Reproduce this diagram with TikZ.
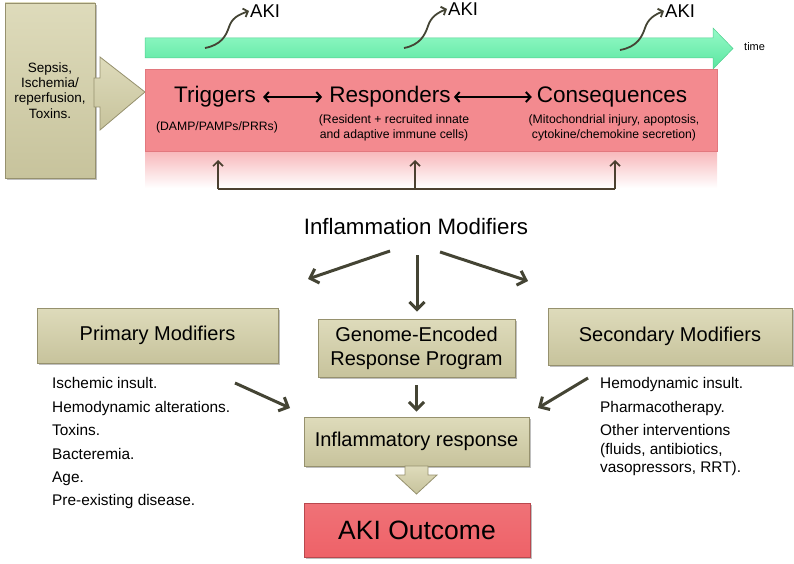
\documentclass[tikz,border=0pt]{standalone}
\usepackage{fontspec}
\setmainfont{Liberation Sans}
\usetikzlibrary{arrows.meta,shadows,calc}
\definecolor{tanA}{RGB}{222,219,187}
\definecolor{tanB}{RGB}{199,195,156}
\definecolor{tanE}{RGB}{150,145,110}
\definecolor{pinkF}{RGB}{243,138,143}
\definecolor{pinkE}{RGB}{226,120,126}
\definecolor{redF}{RGB}{238,98,104}
\definecolor{redE}{RGB}{185,72,78}
\definecolor{mintA}{RGB}{150,250,200}
\definecolor{mintB}{RGB}{90,230,160}
\definecolor{arrc}{RGB}{68,68,52}
\definecolor{fbc}{RGB}{75,64,48}
\newcommand\myfs[2]{\fontsize{#1pt}{#2pt}\selectfont}
\begin{document}
\begin{tikzpicture}[x=1pt,y=-1pt,
  tanbox/.style={draw=tanE, line width=0.8pt, top color=tanA, bottom color=tanB,
    drop shadow={shadow xshift=1.6pt,shadow yshift=-1.8pt,opacity=0.5},
    align=center, inner sep=0pt},
  boxtext/.style={font={\myfs{20}{24}}},
  subtext/.style={font={\myfs{12.2}{15.5}}, align=center},
  bigtext/.style={font={\myfs{22.5}{24}}, inner sep=3pt},
  listtext/.style={font={\myfs{15.4}{23.4}}, align=left, anchor=west, inner sep=0pt},
  bigarr/.style={draw=arrc, line width=3pt, -{Straight Barb[length=7.5pt,width=15pt]}},
  fbarr/.style={draw=fbc, line width=1.6pt, -{Straight Barb[length=5pt,width=10pt]}},
  dblarr/.style={draw=black, line width=2pt, {Straight Barb[length=4.5pt,width=10pt]}-{Straight Barb[length=4.5pt,width=10pt]}},
  squig/.style={draw=arrc, line width=1.8pt, -{Straight Barb[length=4pt,width=9pt]}},
  akitext/.style={font={\myfs{18.5}{18.5}}, anchor=west, inner sep=1pt}
]
\useasboundingbox (0,0) rectangle (794,564);

% timeline
\shade[top color=mintA, bottom color=mintB, draw=mintB!90!black, line width=0.5pt]
  (145,38) -- (713,38) -- (713,28) -- (733,48.5) -- (713,69) -- (713,58) -- (145,58) -- cycle;
\node[font={\myfs{11}{13}}, anchor=west, inner sep=0pt] (time) at (744,47) {time};

% AKI labels and squiggles
\node[akitext] (aki1) at (249,11) {AKI};
\node[akitext] (aki2) at (447,9) {AKI};
\node[akitext] (aki3) at (664,11) {AKI};
\coordinate (q1) at (205,48);
\coordinate (q2) at (404,48);
\coordinate (q3) at (620,50);
\draw[squig] (q1) .. controls (221,45) and (226,36) .. (229,27) .. controls (232,18) and (238,15) .. (aki1.west);
\draw[squig] (q2) .. controls (420,45) and (425,35) .. (428,26) .. controls (431,17) and (437,13) .. (aki2.west);
\draw[squig] (q3) .. controls (637,47) and (642,37) .. (645,28) .. controls (648,19) and (654,15) .. (aki3.west);

% source box and block arrow
\node[tanbox, minimum width=90pt, minimum height=175pt, font={\myfs{13.5}{15.3}}] (src) at (50,90.5)
  {Sepsis,\\Ischemia/\\reperfusion,\\Toxins.};
\shade[top color=tanA, bottom color=tanB, draw=tanE, line width=0.8pt]
  (94,78) -- (100,78) -- (100,57) -- (145,92) -- (100,130) -- (100,107) -- (94,107) -- cycle;

% pink box with reflection
\shade[top color=pinkF!60!white, bottom color=white] (145,152) rectangle (717,188);
\node[draw=pinkE, line width=1pt, fill=pinkF, minimum width=572pt, minimum height=82pt, inner sep=0pt] (pink) at (431,111) {};

\node[bigtext] (trig) at (215,97) {Triggers};
\node[bigtext] (resp) at (390,97) {Responders};
\node[bigtext] (cons) at (612,97) {Consequences};
\draw[dblarr, shorten <=4pt, shorten >=4pt] (trig.east) -- (resp.west);
\draw[dblarr, shorten >=2pt] (resp.east) -- (cons.west);

\node[subtext] (s1) at (217,127) {(DAMP/PAMPs/PRRs)};
\node[subtext] (s2) at (394,128) {(Resident + recruited innate\\and adaptive immune cells)};
\node[subtext] (s3) at (614,128) {(Mitochondrial injury, apoptosis,\\cytokine/chemokine secretion)};

% feedback arrows
\coordinate (fbL) at (218,189);
\coordinate (fbM) at (415,189);
\coordinate (fbR) at (615,189);
\coordinate (tL) at (218,160);
\coordinate (tM) at (415,160);
\coordinate (tR) at (615,160);
\draw[draw=fbc, line width=1.6pt] (fbL) -- (fbR);
\draw[fbarr] (fbL) -- (tL);
\draw[fbarr] (fbM) -- (tM);
\draw[fbarr] (fbR) -- (tR);

% inflammation modifiers
\node[font={\myfs{22.3}{24}}] (im) at (416,227) {Inflammation Modifiers};
\coordinate (imL) at (390,251);
\coordinate (imC) at (417,255);
\coordinate (imR) at (440,252);
\coordinate (eL) at (308,279);
\coordinate (eR) at (528,281);

% boxes
\node[tanbox, boxtext, minimum width=241pt, minimum height=55pt] (prim) at (157.5,335.5) {Primary Modifiers};
\node[tanbox, boxtext, minimum width=197pt, minimum height=58pt] (gen) at (416.5,348) {Genome-Encoded\\Response Program};
\node[tanbox, boxtext, minimum width=244pt, minimum height=57pt] (sec) at (670,336.5) {Secondary Modifiers};
\node[tanbox, boxtext, minimum width=225pt, minimum height=49pt] (infl) at (416.5,441.5) {Inflammatory response};
\node[draw=redE, line width=1pt, top color=redF!90!white, bottom color=redF,
  drop shadow={shadow xshift=1.6pt,shadow yshift=-1.8pt,opacity=0.5},
  minimum width=226pt, minimum height=54pt, font={\myfs{26.5}{28}}] (out) at (417,530) {AKI Outcome};

\draw[bigarr] (imL) -- (eL);
\draw[bigarr] (imR) -- (eR);
\draw[bigarr, shorten >=7pt] (imC) -- (imC |- gen.north);
\draw[bigarr, shorten <=8pt, shorten >=5pt] (gen.south) -- (infl.north);

% block arrow to outcome
\shade[top color=tanA, bottom color=tanB, draw=tanE, line width=0.8pt]
  (405,466) -- (428,466) -- (428,475) -- (437,475) -- (416.5,494) -- (396,475) -- (405,475) -- cycle;

% lists
\node[listtext] (plist) at (52,443.5) {Ischemic insult.\\Hemodynamic alterations.\\Toxins.\\Bacteremia.\\Age.\\Pre-existing disease.};
\node[listtext, font={\myfs{15.4}{18.5}}] (slist) at (600,427) {Hemodynamic insult.\\[5pt]Pharmacotherapy.\\[5pt]Other interventions\\(fluids, antibiotics,\\vasopressors, RRT).};
\coordinate (pa) at (235,383);
\coordinate (pb) at (290,408);
\coordinate (sa) at (588,378);
\coordinate (sb) at (538,408);
\draw[bigarr] (pa) -- (pb);
\draw[bigarr] (sa) -- (sb);
\end{tikzpicture}
\end{document}
